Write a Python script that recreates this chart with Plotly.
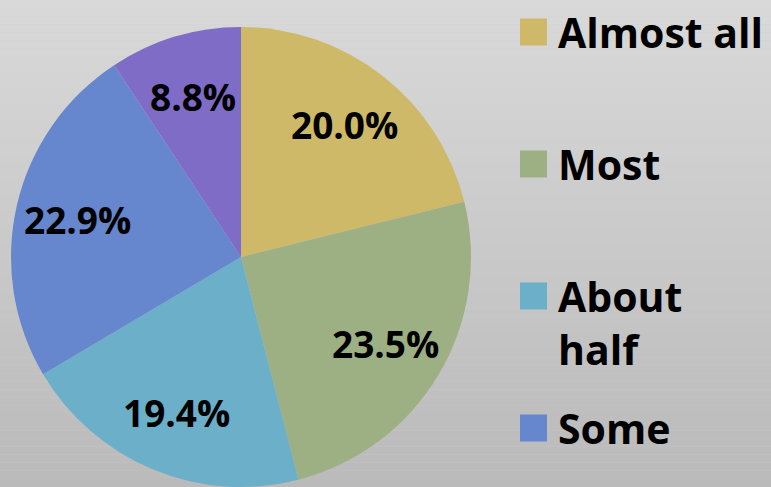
import math
import plotly.graph_objects as go

# ---- data ----
categories = ["Almost all", "Most", "About half", "Some", "Few"]
shares = [20.0, 23.5, 19.4, 22.9, 8.8]
legend_labels = ["Almost all", "Most", "About<br>half", "Some"]
colors = ["#CEB968", "#9DB083", "#6BB0C8", "#6686CD", "#7E6CC6"]

W, H = 771, 487
CX, CY, R = 241, 257, 230  # pie centre / radius in pixels

fig = go.Figure()

fig.add_trace(go.Pie(
    labels=categories,
    values=shares,
    textinfo="none",
    sort=False,
    direction="clockwise",
    rotation=0,
    marker=dict(colors=colors, line=dict(width=0)),
    showlegend=False,
    hovertemplate="%{label}: %{value:.1f}%<extra></extra>",
    domain=dict(x=[(CX - R) / W, (CX + R) / W], y=[1 - (CY + R) / H, 1 - (CY - R) / H]),
))

# ---- background gradient (vertical bands) ----
shapes = []
n = 60
top = (217, 217, 217)
bot = (186, 186, 186)
for i in range(n):
    t = i / (n - 1)
    c = tuple(int(round(top[k] + (bot[k] - top[k]) * t)) for k in range(3))
    shapes.append(dict(
        type="rect", xref="paper", yref="paper", layer="below",
        x0=0, x1=1, y1=1 - i / n, y0=1 - (i + 1) / n,
        fillcolor=f"rgb{c}", line=dict(width=0),
    ))

annotations = []

# ---- percentage labels placed on each slice's mid-angle ----
total = sum(shares)
cum = 0.0
for v in shares:
    mid = (cum + v / 2) / total * 2 * math.pi
    cum += v
    px = CX + 0.73 * R * math.sin(mid)
    py = CY - 0.73 * R * math.cos(mid)
    annotations.append(dict(
        xref="paper", yref="paper", x=px / W, y=1 - py / H,
        xanchor="center", yanchor="middle", showarrow=False,
        text=f"{v:.1f}%",
        font=dict(family="Open Sans", size=37, color="black", weight="bold"),
    ))

# ---- custom legend ----
item_centers = [32, 164, 296, 428]  # pixel y of each legend square centre
for lab, col, yc in zip(legend_labels, colors, item_centers):
    shapes.append(dict(
        type="rect", xref="paper", yref="paper",
        x0=520 / W, x1=547 / W,
        y0=1 - (yc + 13.5) / H, y1=1 - (yc - 13.5) / H,
        fillcolor=col, line=dict(width=0),
    ))
    annotations.append(dict(
        xref="paper", yref="paper", x=556 / W, y=1 - (yc - 30) / H,
        xanchor="left", yanchor="top", align="left", showarrow=False,
        text=lab,
        font=dict(family="Open Sans", size=41, color="black", weight="bold"),
    ))

fig.update_layout(
    width=W, height=H,
    margin=dict(l=0, r=0, t=0, b=0),
    paper_bgcolor="#CCCCCC",
    plot_bgcolor="rgba(0,0,0,0)",
    shapes=shapes,
    annotations=annotations,
)

fig.write_html("out.html", config={"displayModeBar": False},
               post_script="document.body.style.margin='0';")
